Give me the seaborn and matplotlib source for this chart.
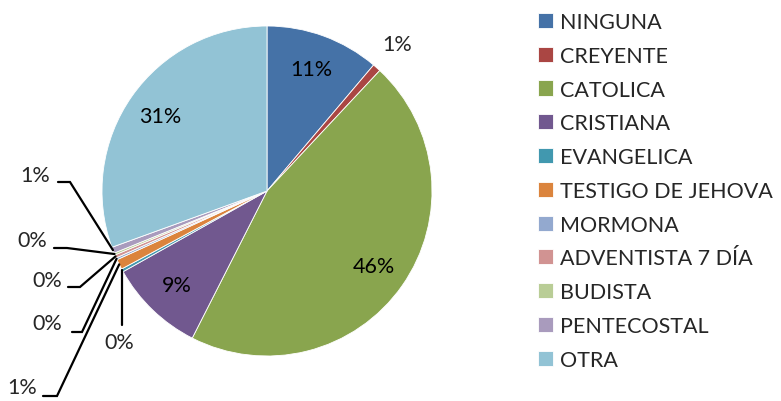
import numpy as np
import matplotlib
matplotlib.use("Agg")
import matplotlib.pyplot as plt
import seaborn as sns

categories = ["NINGUNA", "CREYENTE", "CATOLICA", "CRISTIANA", "EVANGELICA",
              "TESTIGO DE JEHOVA", "MORMONA", "ADVENTISTA 7 DÍA", "BUDISTA",
              "PENTECOSTAL", "OTRA"]
values = [11.2, 0.8, 45.6, 9.4, 0.3, 1.0, 0.2, 0.3, 0.2, 0.6, 30.6]
colors = ["#4572A7", "#AA4643", "#89A54E", "#71588F", "#4198AF", "#DB843D",
          "#93A9CF", "#D19392", "#B9CD96", "#A99BBD", "#92C3D5"]

sns.set_theme(style="white")
plt.rcParams["font.family"] = ["Lato", "DejaVu Sans"]

W, H = 781, 402
CX, CY, R = 267, 192, 165


def px(x, y):
    # pixel position (from top-left) -> data coords (radius 1 = R px)
    return (x - CX) / R, (CY - y) / R


fig = plt.figure(figsize=(W / 100, H / 100), dpi=100)
ax = fig.add_axes([0, 0, 1, 1])

wedges, _ = ax.pie(values, colors=sns.color_palette(colors), startangle=90,
                   counterclock=False, radius=1,
                   wedgeprops=dict(edgecolor="white", linewidth=0.6))

# pie() resets limits/aspect, so fix the mapping afterwards
ax.set_aspect("auto")
ax.set_xlim(-CX / R, (W - CX) / R)
ax.set_ylim(-(H - CY) / R, CY / R)
ax.axis("off")

total = sum(values)
pcts = [f"{round(v / total * 100):.0f}%" for v in values]
fs = 15.5

# labels inside the big slices
for w, p, v in zip(wedges, pcts, values):
    mid = np.deg2rad((w.theta1 + w.theta2) / 2)
    if v >= 5:
        ax.text(0.79 * np.cos(mid), 0.79 * np.sin(mid), p, ha="center",
                va="center", fontsize=fs, color="black")

# CREYENTE label outside, no leader
w = wedges[1]
mid = np.deg2rad((w.theta1 + w.theta2) / 2)
ax.text(1.19 * np.cos(mid), 1.19 * np.sin(mid), pcts[1], ha="center",
        va="center", fontsize=fs)

# small slices with leader lines: (index, label pos, elbow, line end)
leaders = [
    (9, (35, 176), (70, 183), (58, 183)),
    (8, (32, 241), (67, 249), (54, 249)),
    (7, (47, 281), (80, 288), (68, 288)),
    (6, (47, 324), (82, 333), (72, 333)),
    (5, (22, 388), (57, 397), (43, 397)),
]
for i, lab, elbow, end in leaders:
    w = wedges[i]
    mid = np.deg2rad((w.theta1 + w.theta2) / 2)
    sx, sy = np.cos(mid), np.sin(mid)
    ex, ey = px(*elbow)
    tx, ty = px(*end)
    ax.plot([sx, ex, tx], [sy, ey, ty], color="black", lw=1.6,
            solid_joinstyle="miter")
    ax.text(*px(*lab), pcts[i], ha="center", va="center", fontsize=fs)

# EVANGELICA: vertical leader
w = wedges[4]
mid = np.deg2rad((w.theta1 + w.theta2) / 2)
sx, sy = np.cos(mid), np.sin(mid)
ax.plot([sx, sx], [sy, px(0, 326)[1]], color="black", lw=1.6)
ax.text(*px(119, 343), pcts[4], ha="center", va="center", fontsize=fs)

leg = fig.legend(wedges, categories, loc="upper left",
                 bbox_to_anchor=(538 / W, 1 - 13 / H), frameon=False,
                 fontsize=fs, handlelength=0.7, handleheight=0.7,
                 handletextpad=0.33, labelspacing=0.64, borderaxespad=0,
                 borderpad=0)

fig.savefig("out.png", dpi=100)
